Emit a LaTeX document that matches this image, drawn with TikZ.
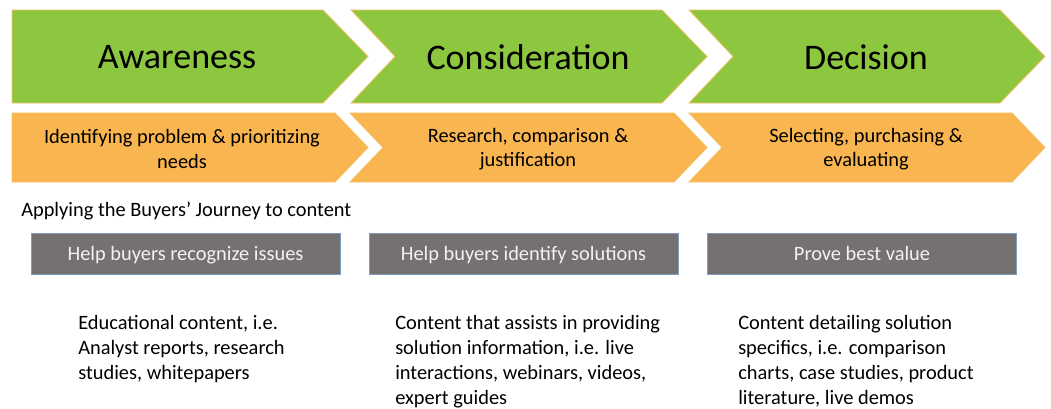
\documentclass[tikz,border=0pt]{standalone}
\usepackage{fontspec}
\setmainfont{Carlito}
\usepackage{xcolor}
\usepackage{tikz}
\definecolor{stagegreen}{HTML}{8DC63F}
\definecolor{stageorange}{HTML}{F9B54F}
\definecolor{stageedge}{HTML}{F4BE62}
\definecolor{boxgray}{HTML}{767171}
\definecolor{boxedge}{HTML}{7F9CC3}
\definecolor{boxtext}{HTML}{F2F2F2}

\begin{document}
\begin{tikzpicture}[x=0.75pt,y=-0.75pt,
  chevron/.style={draw=stageedge,line width=0.6pt},
  stage/.style={inner sep=0pt,font=\fontsize{27}{32}\selectfont},
  task/.style={align=center,inner sep=0pt,font=\fontsize{15.3}{18.4}\selectfont},
  goal/.style={draw=boxedge,line width=0.75pt,fill=boxgray,text=boxtext,
    minimum width=231.75pt,minimum height=30.75pt,inner sep=0pt,
    text height=12pt,text depth=2.2pt,
    font=\fontsize{15.3}{18.4}\selectfont},
  caption/.style={anchor=base west,inner sep=0pt,font=\fontsize{15.3}{18.4}\selectfont},
  info/.style={align=left,anchor=north west,inner sep=0pt,
    font=\fontsize{15.3}{18.75}\selectfont}
]
\useasboundingbox (0,0) rectangle (1051,408);
% stage chevrons, first one has no notch
\foreach \l/\d/\t in {12/0/368,351/44/707,689/44/1045}
  \path[chevron,fill=stagegreen] (\l,10) -- (\t-45,10) -- (\t,56.5)
    -- (\t-45,103) -- (\l,103) -- (\l+\d,56.5) -- cycle;
\foreach \l/\d/\t in {12/0/368,350/33/707,689/33/1045}
  \path[chevron,fill=stageorange] (\l,113) -- (\t-33,113) -- (\t,147.5)
    -- (\t-33,182) -- (\l,182) -- (\l+\d,147.5) -- cycle;

\node[stage] (aware) at (177,57) {Awareness};
\node[stage] (consid) at (528,57) {Consideration};
\node[stage] (decide) at (866,57) {Decision};

\node[task] (need1) at (182,149) {Identifying problem \& prioritizing\\needs};
\node[task] (need2) at (528,149) {Research, comparison \&\\justification};
\node[task] (need3) at (866,149) {Selecting, purchasing \&\\evaluating};

\node[caption] (apply) at (21,216) {Applying the Buyers’ Journey to content};

\node[goal] (goal1) at (185.5,253.5) {Help buyers recognize issues};
\node[goal] (goal2) at (523.5,253.5) {Help buyers identify solutions};
\node[goal] (goal3) at (862,253.5) {Prove best value};

\node[info] (info1) at (78,315) {Educational content, i.e.\\Analyst reports, research\\studies, whitepapers};
\node[info] (info2) at (395,315) {Content that assists in providing\\solution information, i.e. live\\interactions, webinars, videos,\\expert guides};
\node[info] (info3) at (738,315) {Content detailing solution\\specifics, i.e. comparison\\charts, case studies, product\\literature, live demos};
\end{tikzpicture}
\end{document}
